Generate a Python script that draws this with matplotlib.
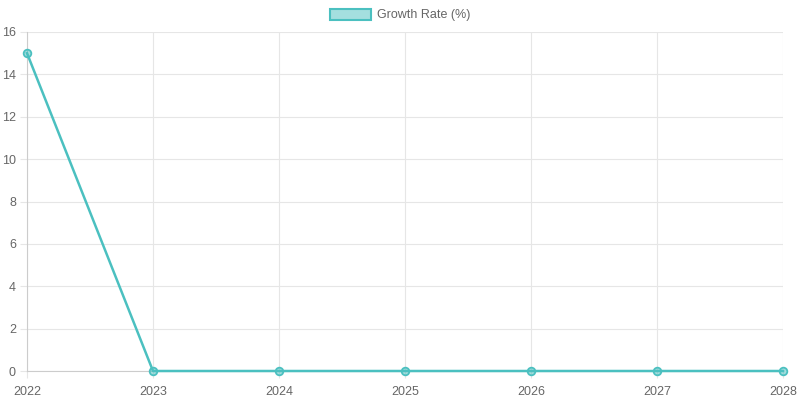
import matplotlib
matplotlib.use("Agg")
from matplotlib import pyplot as plt
from matplotlib.patches import Patch

# data
years = ["2022", "2023", "2024", "2025", "2026", "2027", "2028"]
growth = [15, 0, 0, 0, 0, 0, 0]
y_ticks = [0, 2, 4, 6, 8, 10, 12, 14, 16]

line_color = "#4bc0c0"
fill_color = (75 / 255, 192 / 255, 192 / 255, 0.5)
grid_color = "#e6e6e6"
text_color = "#666666"

plt.rcParams["font.family"] = ["Liberation Sans", "DejaVu Sans"]

fig = plt.figure(figsize=(8, 4), dpi=100)
ax = fig.add_axes([27 / 800, 1 - 371 / 400, (783 - 27) / 800, (371 - 32) / 400])

xs = list(range(len(years)))
ax.plot(xs, growth, color=line_color, linewidth=1.8,
        marker="o", markersize=5.5, markerfacecolor=fill_color,
        markeredgecolor=line_color, markeredgewidth=1.3, clip_on=False, zorder=3)

ax.set_xlim(0, len(years) - 1)
ax.set_ylim(0, 16)
ax.set_xticks(xs)
ax.set_xticklabels(years)
ax.set_yticks(y_ticks)

ax.grid(True, color=grid_color, linewidth=0.8)
ax.set_axisbelow(True)
for side in ["top", "right"]:
    ax.spines[side].set_visible(False)
for side in ["left", "bottom"]:
    ax.spines[side].set_color("#cccccc")
    ax.spines[side].set_linewidth(0.8)
ax.tick_params(axis="both", colors=grid_color, labelcolor=text_color,
               labelsize=9, length=5, width=0.8)
ax.tick_params(axis="x", pad=6)
ax.tick_params(axis="y", pad=3)

leg = fig.legend(handles=[Patch(facecolor=fill_color, edgecolor=line_color,
                                linewidth=1.5, label="Growth Rate (%)")],
                 loc="center", bbox_to_anchor=(0.5, 1 - 15 / 400), frameon=False,
                 fontsize=9, handlelength=3.3, handleheight=1.0, handletextpad=0.5)
for t in leg.get_texts():
    t.set_color(text_color)

fig.savefig("out.png", dpi=100)
